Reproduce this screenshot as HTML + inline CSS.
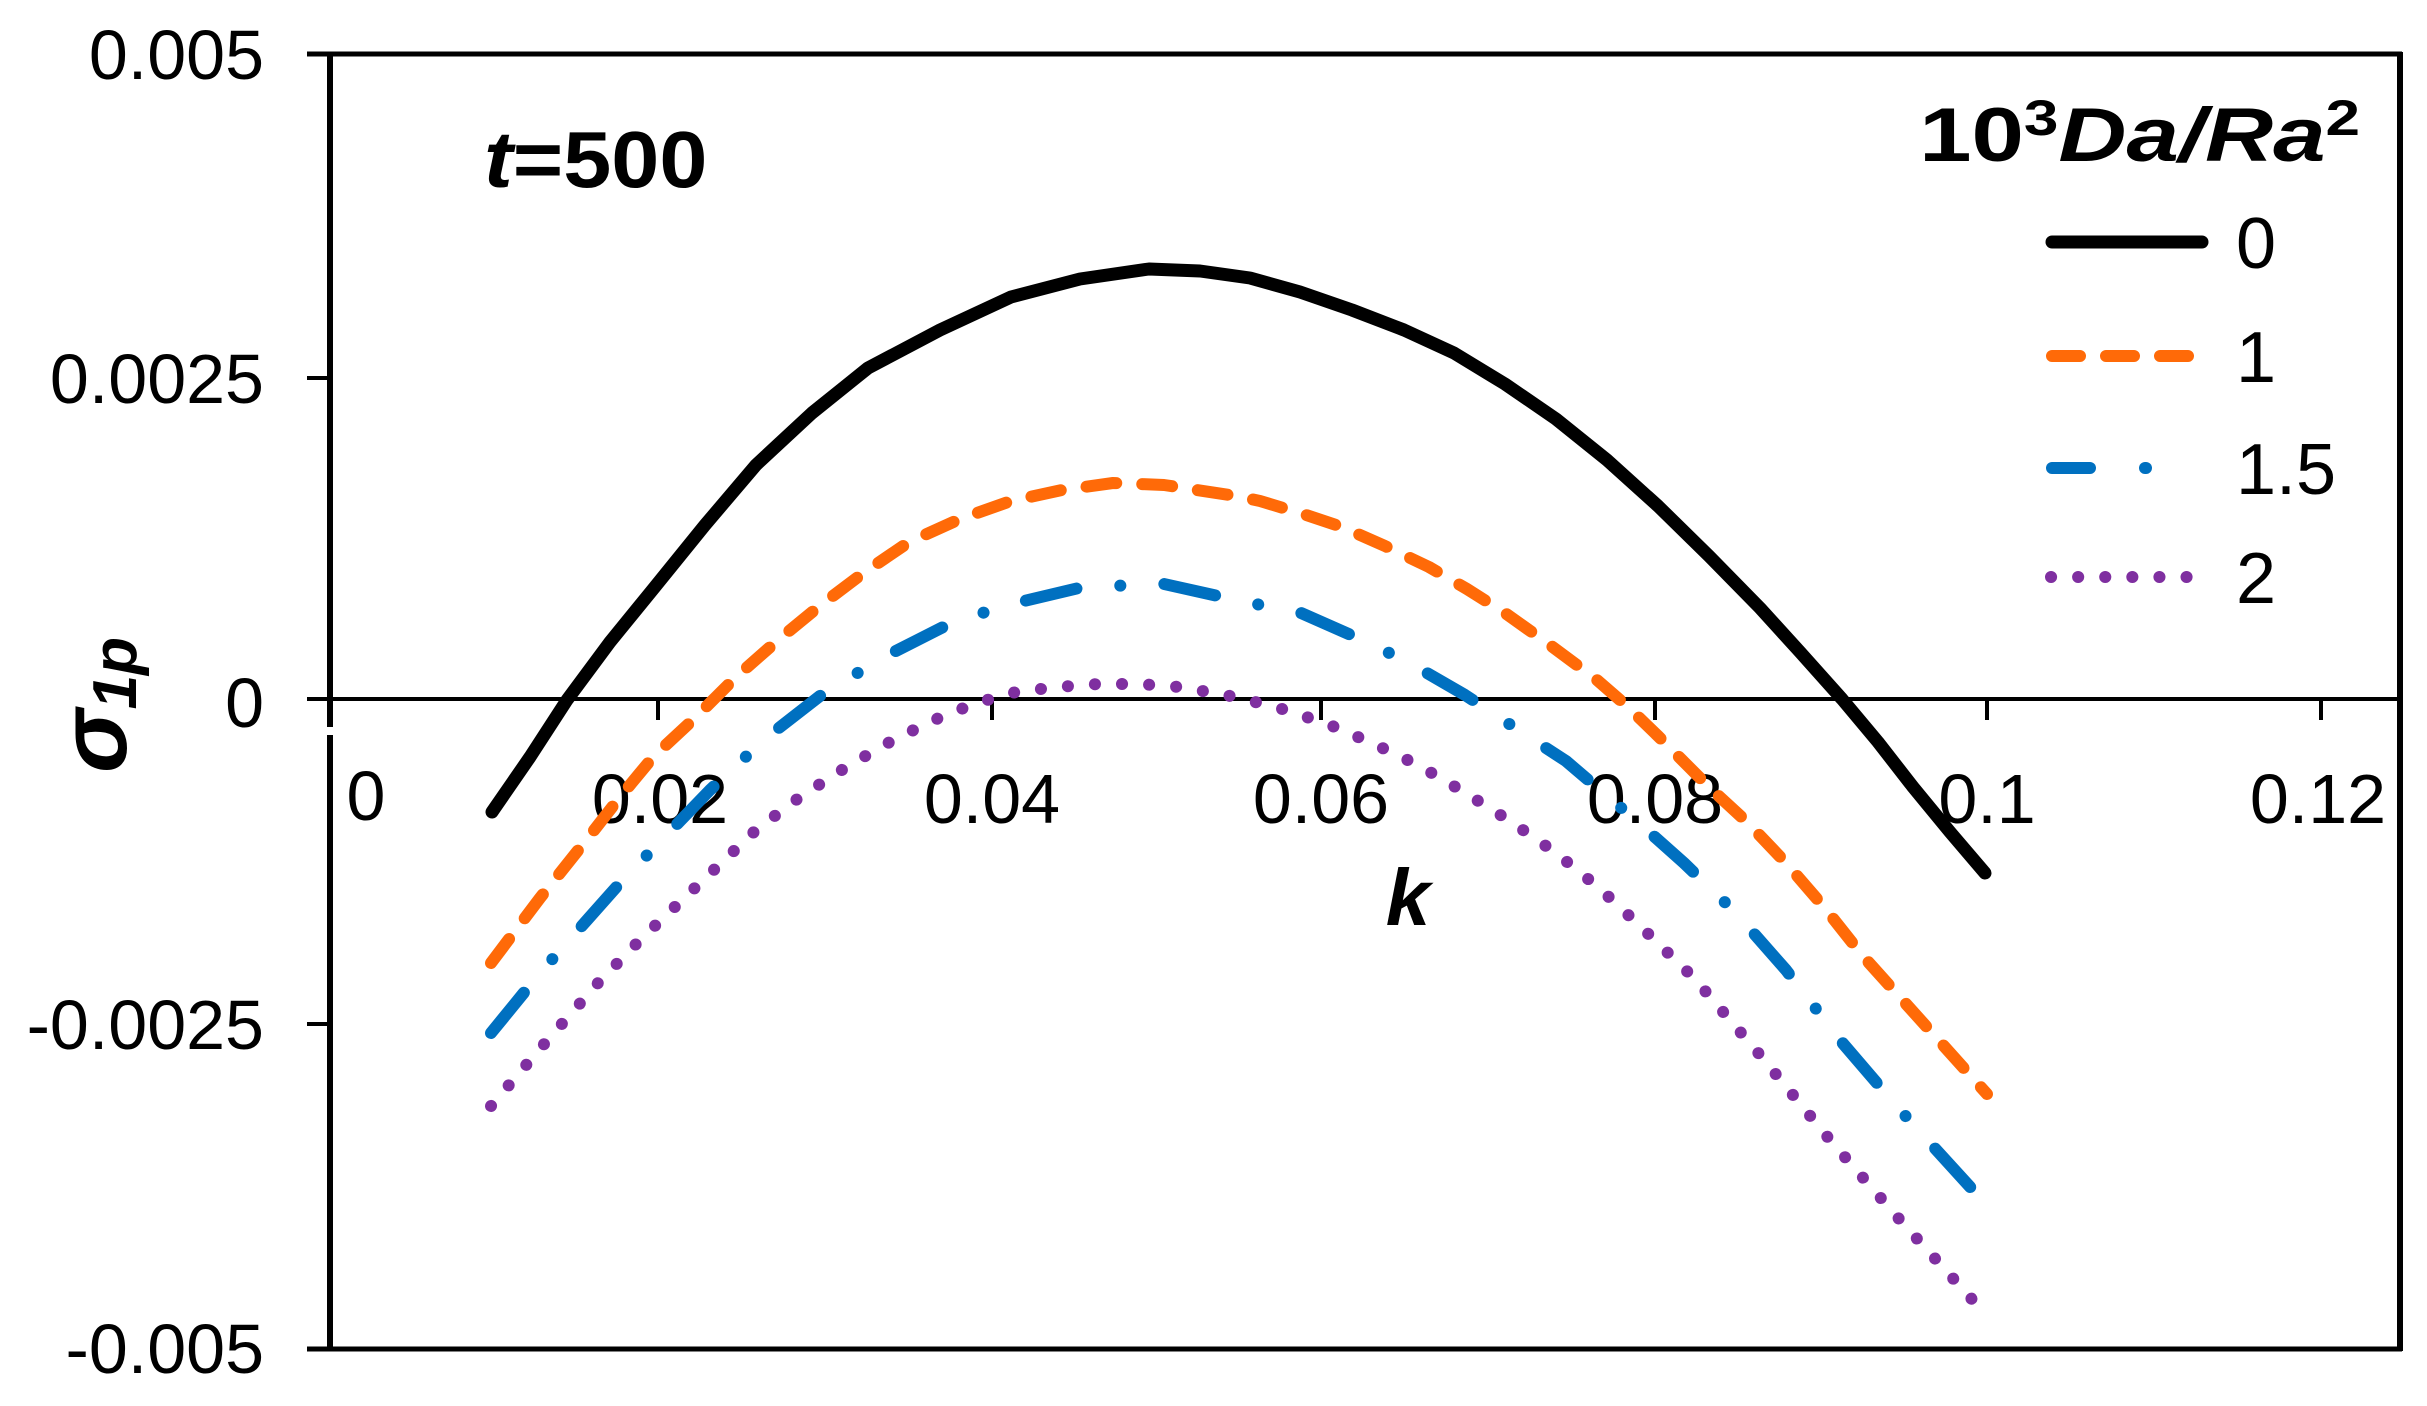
<!DOCTYPE html>
<html><head><meta charset="utf-8"><style>html,body{margin:0;padding:0;background:#fff}svg{display:block}</style></head>
<body>
<svg width="2427" height="1406" viewBox="0 0 2427 1406" xmlns="http://www.w3.org/2000/svg" font-family="Liberation Sans, Arial, sans-serif">
<rect width="2427" height="1406" fill="#fff"/>
<line x1="307" y1="54" x2="2402" y2="54" stroke="#000" stroke-width="5"/>
<line x1="307" y1="1349" x2="2402" y2="1349" stroke="#000" stroke-width="5"/>
<line x1="2400" y1="52" x2="2400" y2="1351" stroke="#000" stroke-width="6"/>
<line x1="330" y1="52" x2="330" y2="727" stroke="#000" stroke-width="6"/>
<line x1="330" y1="735" x2="330" y2="1351" stroke="#000" stroke-width="6"/>
<line x1="307" y1="378" x2="330" y2="378" stroke="#000" stroke-width="4"/>
<line x1="307" y1="1024" x2="330" y2="1024" stroke="#000" stroke-width="4"/>
<line x1="307" y1="699" x2="2400" y2="699" stroke="#000" stroke-width="4"/>
<g stroke="#000" stroke-width="4">
<line x1="658" y1="699" x2="658" y2="720"/>
<line x1="992" y1="699" x2="992" y2="720"/>
<line x1="1321" y1="699" x2="1321" y2="720"/>
<line x1="1655" y1="699" x2="1655" y2="720"/>
<line x1="1987" y1="699" x2="1987" y2="720"/>
<line x1="2321" y1="699" x2="2321" y2="720"/>
</g>
<g font-size="70" text-anchor="end" fill="#000">
<text x="264" y="79">0.005</text>
<text x="264" y="403">0.0025</text>
<text x="264" y="727">0</text>
<text x="264" y="1049">-0.0025</text>
<text x="264" y="1373">-0.005</text>
</g>
<g font-size="70" text-anchor="middle" fill="#000">
<text x="366" y="820">0</text>
<text x="660" y="823">0.02</text>
<text x="992" y="823">0.04</text>
<text x="1321" y="823">0.06</text>
<text x="1655" y="823">0.08</text>
<text x="1987" y="823">0.1</text>
<text x="2318" y="823">0.12</text>
</g>
<text x="1408" y="925" font-size="80" font-weight="bold" font-style="italic" text-anchor="middle">k</text>
<g transform="translate(126,705) rotate(-90)">
<text x="0" y="0" font-size="96" font-weight="bold" font-style="italic" text-anchor="middle">σ<tspan font-size="62" dy="10">1p</tspan></text>
</g>
<g transform="translate(484,187) scale(1.08,1)">
<text x="0" y="0" font-size="80" font-weight="bold"><tspan font-style="italic">t</tspan>=500</text>
</g>
<g transform="translate(2360,161) scale(1.24,1)">
<text x="0" y="0" font-size="76" font-weight="bold" text-anchor="end">10<tspan font-size="50" dy="-26">3</tspan><tspan dy="26" font-style="italic">Da/Ra</tspan><tspan font-size="50" dy="-26">2</tspan></text>
</g>
<line x1="2052" y1="242" x2="2202" y2="242" stroke="#000" stroke-width="13" stroke-linecap="round"/>
<line x1="2052" y1="356" x2="2190" y2="356" stroke="#ff6a08" stroke-width="12" stroke-linecap="round" stroke-dasharray="28 26"/>
<line x1="2052" y1="468" x2="2090" y2="468" stroke="#0070c0" stroke-width="12" stroke-linecap="round"/>
<line x1="2145" y1="468" x2="2146" y2="468" stroke="#0070c0" stroke-width="12" stroke-linecap="round"/>
<line x1="2051" y1="577" x2="2194" y2="577" stroke="#7f2fa0" stroke-width="12" stroke-linecap="round" stroke-dasharray="0.1 27"/>
<g font-size="72" fill="#000">
<text x="2236" y="268">0</text>
<text x="2236" y="382">1</text>
<text x="2236" y="494">1.5</text>
<text x="2236" y="603">2</text>
</g>
<polyline fill="none" stroke="#000" stroke-width="13" stroke-linecap="round" stroke-linejoin="round"
points="492,812 530,757 567,700 610,642 654,588 705,525 756,465 812,413 868,368 940,330 1011,297 1080,279 1149,269 1200,271 1250,278 1300,292 1352,310 1404,330 1454,353 1505,384 1556,419 1607,460 1658,506 1709,556 1760,608 1800,652 1842,699 1878,742 1913,787 1950,832 1985,873"/>
<polyline fill="none" stroke="#ff6a08" stroke-width="12" stroke-linecap="round" stroke-linejoin="round" stroke-dasharray="30 26"
points="491,963 540,898 588,838 620,797 654,756 695,718 736,677 777,641 817,608 862,574 909,542 960,519 1011,501 1062,490 1113,483 1164,485 1236,496 1260,501 1300,513 1342,527 1385,546 1429,567 1467,589 1505,613 1550,645 1597,680 1628,707 1658,736 1709,787 1748,823 1786,863 1824,907 1862,955 1925,1025 1987,1094"/>
<polyline fill="none" stroke="#0070c0" stroke-width="12" stroke-linecap="round" stroke-linejoin="round" stroke-dasharray="52 44 0.1 44"
points="491,1033 540,973 588,919 620,883 654,848 710,790 766,738 825,692 890,654 955,621 1020,602 1083,587 1164,584 1236,600 1301,613 1360,639 1408,662 1465,695 1520,731 1566,761 1600,790 1638,822 1684,863 1735,912 1786,970 1840,1040 1900,1110 1982,1200"/>
<polyline fill="none" stroke="#7f2fa0" stroke-width="12" stroke-linecap="round" stroke-linejoin="round" stroke-dasharray="0.1 27"
points="491,1106 545,1043 598,983 640,940 680,902 718,866 756,830 800,797 848,766 895,739 945,715 980,702 1016,692 1057,687 1098,684 1140,684 1180,687 1236,697 1286,710 1330,725 1372,743 1418,765 1464,792 1510,821 1556,853 1598,887 1638,924 1694,978 1760,1055 1830,1140 1900,1220 1979,1307"/>
</svg>
</body></html>
